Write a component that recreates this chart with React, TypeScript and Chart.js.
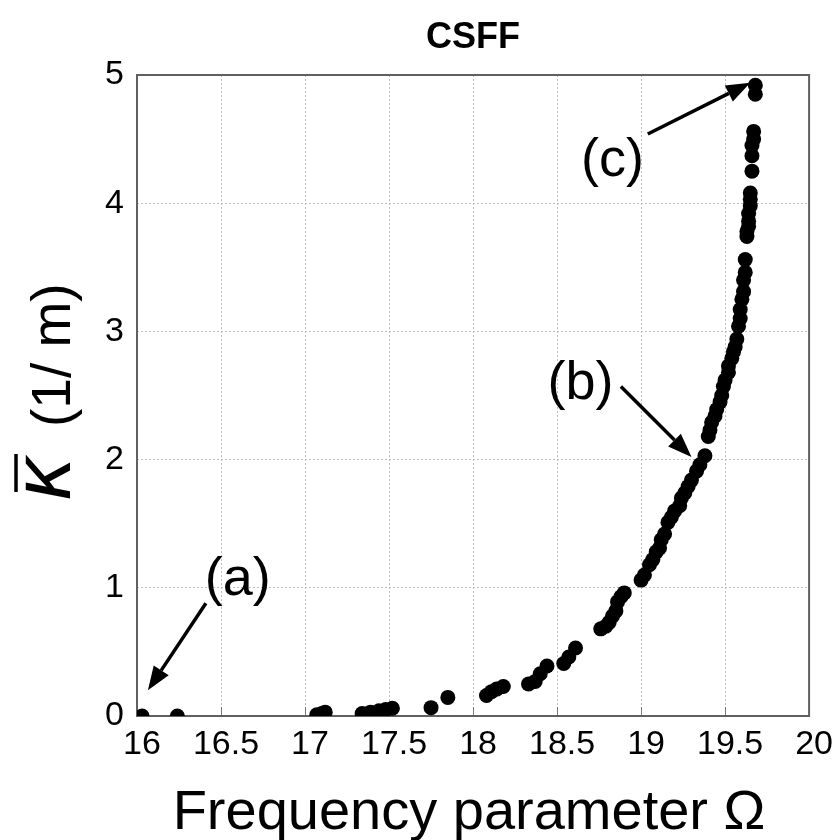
import { useEffect, useRef } from "react";
import { Chart, registerables } from "chart.js";

Chart.register(...registerables);

// ---- data ----
const omega = [
  16.03, 16.24,
  17.07, 17.10, 17.12,
  17.34, 17.39, 17.44, 17.48, 17.52,
  17.75, 17.85,
  18.08, 18.11, 18.14, 18.18,
  18.33, 18.37, 18.40, 18.44,
  18.54, 18.57, 18.61,
  18.76, 18.79, 18.81, 18.83, 18.85, 18.86, 18.88, 18.90,
  19.00, 19.02, 19.05, 19.07, 19.09, 19.11, 19.12, 19.14, 19.16, 19.18,
  19.20, 19.23, 19.24, 19.26, 19.28, 19.30, 19.33, 19.35, 19.38,
  19.40, 19.41, 19.42, 19.44, 19.45, 19.47, 19.48, 19.49, 19.50, 19.52,
  19.52, 19.54, 19.55, 19.56, 19.57, 19.58, 19.59, 19.59, 19.60, 19.61,
  19.61, 19.62, 19.62,
  19.63, 19.63, 19.64, 19.64, 19.64, 19.65, 19.65, 19.65, 19.66, 19.66,
  19.66, 19.67, 19.67, 19.68, 19.68,
];
const kappa = [
  0, 0,
  0.01, 0.02, 0.03,
  0.02, 0.03, 0.04, 0.05, 0.06,
  0.065, 0.145,
  0.16, 0.19, 0.21, 0.23,
  0.25, 0.27, 0.33, 0.39,
  0.41, 0.46, 0.53,
  0.68, 0.70, 0.73, 0.78, 0.82, 0.89, 0.93, 0.96,
  1.06, 1.10, 1.18, 1.22, 1.28, 1.31, 1.375, 1.42, 1.51, 1.55,
  1.60, 1.64, 1.70, 1.74, 1.79, 1.84, 1.91, 1.96, 2.03,
  2.18, 2.23, 2.29, 2.34, 2.39, 2.45, 2.50, 2.57, 2.62, 2.68,
  2.73, 2.79, 2.84, 2.88, 2.94, 3.04, 3.10, 3.17, 3.25, 3.31,
  3.40, 3.46, 3.56,
  3.74, 3.78, 3.82, 3.86, 3.92, 3.98, 4.03, 4.08, 4.25, 4.37,
  4.45, 4.50, 4.56, 4.85, 4.92,
];
const xTicks = [16, 16.5, 17, 17.5, 18, 18.5, 19, 19.5, 20];
const yTicks = [0, 1, 2, 3, 4, 5];
const chartTitle = "CSFF";
const xTitle = "Frequency parameter \u03A9";
const yTitleSymbol = "\u03BA";
const yTitleUnit = "(1/ m)";

// annotation labels: text position and arrow (tail -> head), in data units
const noteText = ["(a)", "(b)", "(c)"];
const noteX = [16.6, 18.64, 18.83];
const noteY = [1.06, 2.59, 4.33];
const arrowFromX = [16.41, 18.88, 19.04];
const arrowFromY = [0.88, 2.57, 4.54];
const arrowToX = [16.065, 19.30, 19.65];
const arrowToY = [0.2, 2.02, 4.94];

const FONT = "'Liberation Sans', Arial, Helvetica, sans-serif";

const decorPlugin = {
  id: "decor",
  beforeDatasetsDraw(chart: any) {
    const { ctx, chartArea: a, scales } = chart;
    ctx.save();
    // inward tick marks on the x axis
    ctx.strokeStyle = "#777";
    ctx.lineWidth = 1;
    for (const t of xTicks) {
      const px = Math.round(scales.x.getPixelForValue(t)) + 0.5;
      ctx.beginPath();
      ctx.moveTo(px, a.bottom);
      ctx.lineTo(px, a.bottom - 9);
      ctx.stroke();
    }
    // frame
    ctx.strokeStyle = "#606060";
    ctx.lineWidth = 2;
    ctx.strokeRect(a.left, a.top, a.right - a.left, a.bottom - a.top);
    ctx.restore();
  },
  afterDraw(chart: any) {
    const { ctx, chartArea: a, scales } = chart;
    const cx = (a.left + a.right) / 2;
    ctx.save();
    ctx.fillStyle = "#000";
    ctx.strokeStyle = "#000";
    // title
    ctx.font = `bold 36px ${FONT}`;
    ctx.textAlign = "center";
    ctx.textBaseline = "alphabetic";
    ctx.fillText(chartTitle, cx, 48);
    // x title
    ctx.font = `56px ${FONT}`;
    ctx.fillText(xTitle, cx - 4, 829);
    // y title (rotated)
    ctx.save();
    ctx.translate(70, 500);
    ctx.rotate(-Math.PI / 2);
    ctx.textAlign = "left";
    ctx.font = `italic 84px ${FONT}`;
    ctx.fillText(yTitleSymbol, 0, 0);
    const kw = ctx.measureText(yTitleSymbol).width;
    ctx.lineWidth = 3.5;
    ctx.beginPath();
    ctx.moveTo(8, -54);
    ctx.lineTo(kw + 4, -54);
    ctx.stroke();
    ctx.font = `55px ${FONT}`;
    ctx.fillText(yTitleUnit, 73, 0);
    ctx.restore();
    // annotations
    ctx.textAlign = "center";
    ctx.textBaseline = "middle";
    ctx.font = `54px ${FONT}`;
    for (let i = 0; i < noteText.length; i++) {
      const tx = scales.x.getPixelForValue(noteX[i]);
      const ty = scales.y.getPixelForValue(noteY[i]);
      ctx.fillText(noteText[i], tx, ty);
      const x1 = scales.x.getPixelForValue(arrowFromX[i]);
      const y1 = scales.y.getPixelForValue(arrowFromY[i]);
      const x2 = scales.x.getPixelForValue(arrowToX[i]);
      const y2 = scales.y.getPixelForValue(arrowToY[i]);
      const ang = Math.atan2(y2 - y1, x2 - x1);
      const hl = 24;
      const hw = 9;
      const bx = x2 - hl * Math.cos(ang);
      const by = y2 - hl * Math.sin(ang);
      ctx.lineWidth = 3.5;
      ctx.beginPath();
      ctx.moveTo(x1, y1);
      ctx.lineTo(bx, by);
      ctx.stroke();
      ctx.beginPath();
      ctx.moveTo(x2, y2);
      ctx.lineTo(bx + hw * Math.sin(ang), by - hw * Math.cos(ang));
      ctx.lineTo(bx - hw * Math.sin(ang), by + hw * Math.cos(ang));
      ctx.closePath();
      ctx.fill();
    }
    ctx.restore();
  },
};

export default function App() {
  const ref = useRef<HTMLCanvasElement | null>(null);
  useEffect(() => {
    if (!ref.current) return;
    const points = omega.map((x, i) => ({ x, y: kappa[i] }));
    const chart = new Chart(ref.current, {
      type: "scatter",
      data: {
        datasets: [
          {
            data: points,
            backgroundColor: "#000",
            borderColor: "#000",
            borderWidth: 0,
            pointRadius: 7.5,
            pointHoverRadius: 7.5,
          },
        ],
      },
      options: {
        responsive: false,
        animation: false,
        events: [],
        layout: { padding: { top: 75, right: 19, left: 0, bottom: 0 } },
        plugins: {
          legend: { display: false },
          title: { display: false },
          tooltip: { enabled: false },
        },
        scales: {
          x: {
            type: "linear",
            min: 16,
            max: 20,
            afterBuildTicks: (s: any) => {
              s.ticks = xTicks.map((v) => ({ value: v }));
            },
            afterFit: (s: any) => {
              s.height = 124;
            },
            grid: { color: "#bdbdbd", lineWidth: 1, drawTicks: false },
            border: { display: false, dash: [2, 2] },
            ticks: {
              color: "#000",
              padding: 8,
              labelOffset: 5,
              maxRotation: 0,
              autoSkip: false,
              font: { family: FONT, size: 34 },
              callback: (v: any) => String(v),
            },
          },
          y: {
            type: "linear",
            min: 0,
            max: 5,
            afterBuildTicks: (s: any) => {
              s.ticks = yTicks.map((v) => ({ value: v }));
            },
            afterFit: (s: any) => {
              s.width = 137;
            },
            grid: { color: "#bdbdbd", lineWidth: 1, drawTicks: false },
            border: { display: false, dash: [2, 2] },
            ticks: {
              color: "#000",
              padding: 13,
              autoSkip: false,
              font: { family: FONT, size: 34 },
              callback: (v: any) => String(v),
            },
          },
        },
      },
      plugins: [decorPlugin],
    });
    return () => chart.destroy();
  }, []);
  return (
    <div style={{ position: "fixed", left: 0, top: 0, width: 836, height: 840, background: "#fff" }}>
      <canvas ref={ref} width={836} height={840} style={{ display: "block" }} />
    </div>
  );
}
